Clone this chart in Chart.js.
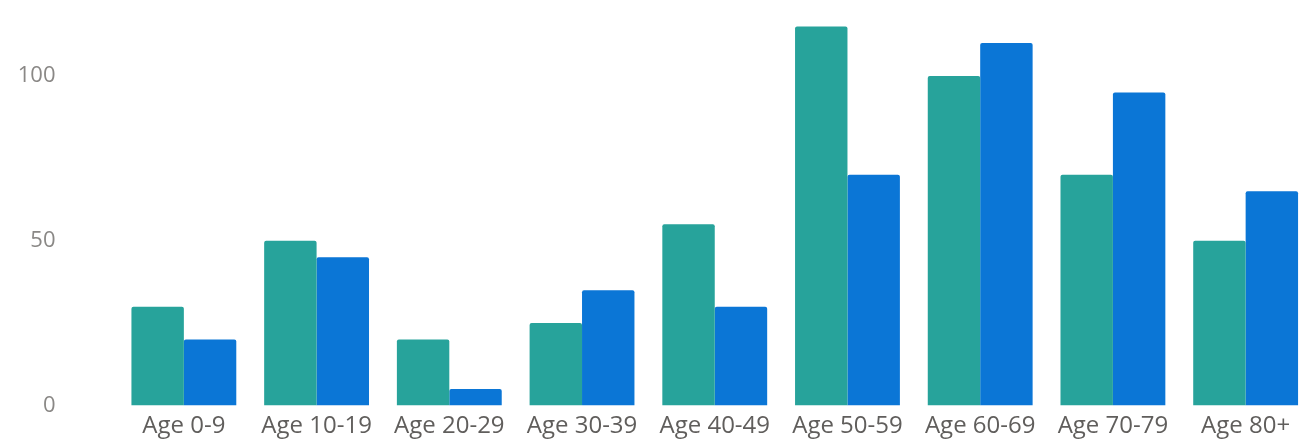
<!DOCTYPE html>
<html>
<head>
<meta charset="utf-8">
<script src="https://cdn.jsdelivr.net/npm/chart.js@4.4.1/dist/chart.umd.min.js"></script>
<style>
  html, body { margin: 0; padding: 0; background: #fff; }
  #wrap { width: 1316px; height: 444px; position: relative; }
</style>
</head>
<body>
<div id="wrap"><canvas id="ageChart"></canvas></div>
<script>
const categories = ['Age 0-9', 'Age 10-19', 'Age 20-29', 'Age 30-39', 'Age 40-49', 'Age 50-59', 'Age 60-69', 'Age 70-79', 'Age 80+'];
const tealValues = [30, 50, 20, 25, 55, 115, 100, 70, 50];
const blueValues = [20, 45, 5, 35, 30, 70, 110, 95, 65];
const yTicks = [0, 50, 100];

const ageChartCanvas = document.getElementById('ageChart');

let ageChart = new Chart(ageChartCanvas, {
  type: 'bar',
  data: {
    labels: categories,
    datasets: [
      {
        label: 'Series 1',
        data: tealValues,
        backgroundColor: '#27a39b',
        borderRadius: 2,
        borderSkipped: 'bottom',
        barPercentage: 1,
        categoryPercentage: 0.79,
      },
      {
        label: 'Series 2',
        data: blueValues,
        backgroundColor: '#0b76d6',
        borderRadius: 2,
        borderSkipped: 'bottom',
        barPercentage: 1,
        categoryPercentage: 0.79,
      },
    ],
  },
  options: {
    responsive: true,
    maintainAspectRatio: false,
    animation: false,
    layout: { padding: { top: 10, right: 4, bottom: 0, left: 0 } },
    plugins: {
      legend: { display: false },
      tooltip: { enabled: false },
    },
    scales: {
      x: {
        grid: { display: false, drawTicks: false },
        border: { display: false },
        ticks: {
          color: '#605e5c',
          padding: 6,
          maxRotation: 0,
          autoSkip: false,
          font: { family: 'Open Sans', size: 24 },
        },
        afterFit: (scale) => {
          scale.height = 38.5;
          scale.paddingLeft = 0;
          scale.paddingRight = 0;
        },
      },
      y: {
        min: 0,
        max: 120,
        grid: { display: false, drawTicks: false },
        border: { display: false },
        afterBuildTicks: (scale) => { scale.ticks = yTicks.map((v) => ({ value: v })); },
        ticks: {
          color: '#8a8886',
          padding: 62,
          font: { family: 'Open Sans', size: 22 },
        },
        // big tick padding also pads top/bottom of the chart area, undo that
        afterFit: (scale) => {
          scale.width = 117.5;
          scale.paddingTop = 0;
          scale.paddingBottom = 0;
        },
      },
    },
  },
});
</script>
</body>
</html>
